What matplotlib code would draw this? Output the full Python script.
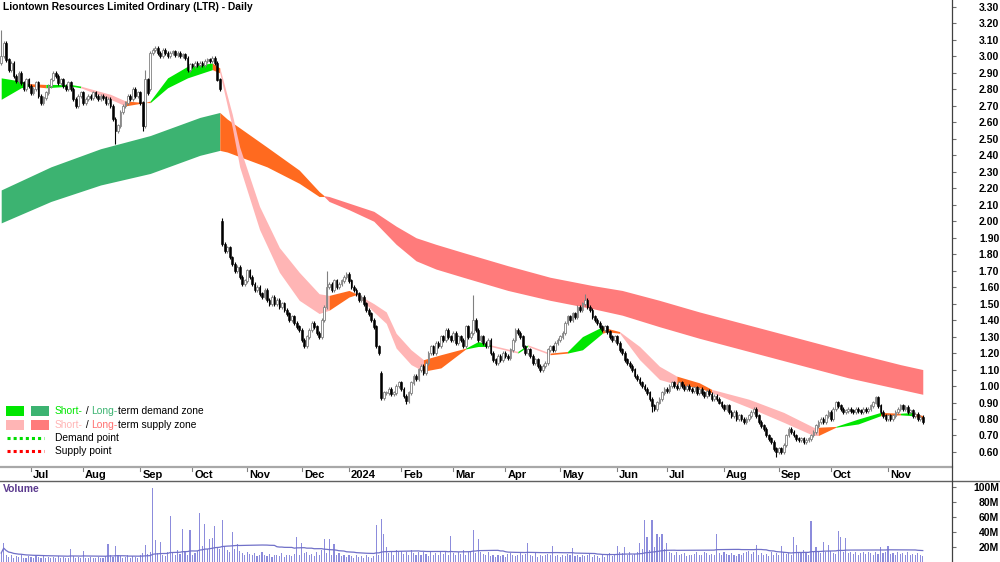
import numpy as np
import pandas as pd
import matplotlib
matplotlib.use("Agg")
import matplotlib.pyplot as plt
from matplotlib.lines import Line2D
from matplotlib.patches import Rectangle
from matplotlib.transforms import blended_transform_factory

plt.rcParams["font.family"] = ["Liberation Sans", "DejaVu Sans"]

# ── data ──────────────────────────────────────────────────────────────────────
HOLIDAYS = ["2023-12-25", "2023-12-26", "2024-01-01", "2024-01-26"]
dates = pd.bdate_range("2023-06-15", "2024-11-21")
dates = dates[~dates.isin(pd.to_datetime(HOLIDAYS))]

closes = [
    3.00, 3.08, 2.98, 2.92, 2.96, 2.88, 2.85, 2.90, 2.84, 2.80,
    2.86, 2.82, 2.78, 2.80, 2.84, 2.76, 2.72, 2.75, 2.78, 2.82,
    2.86, 2.90, 2.88, 2.84, 2.86, 2.82, 2.80, 2.84, 2.80, 2.74,
    2.70, 2.76, 2.78, 2.72, 2.74, 2.76, 2.75, 2.78, 2.76, 2.74,
    2.76, 2.75, 2.72, 2.74, 2.70, 2.62, 2.55, 2.58, 2.66, 2.70,
    2.72, 2.76, 2.74, 2.80, 2.76, 2.78, 2.72, 2.58, 2.86, 2.78,
    3.02, 3.04, 3.05, 3.02, 3.00, 3.04, 3.02, 3.00, 3.02, 3.03,
    3.01, 3.02, 3.00, 3.01, 2.99, 2.92, 2.95, 2.94, 2.96, 2.95,
    2.96, 2.95, 2.97, 2.98, 2.97, 2.99, 2.96, 2.86, 2.80, 1.86,
    1.82, 1.84, 1.78, 1.74, 1.70, 1.72, 1.66, 1.62, 1.64, 1.70,
    1.66, 1.62, 1.58, 1.60, 1.56, 1.54, 1.58, 1.52, 1.50, 1.54,
    1.50, 1.52, 1.48, 1.50, 1.46, 1.44, 1.40, 1.42, 1.38, 1.36,
    1.34, 1.28, 1.24, 1.30, 1.34, 1.38, 1.36, 1.32, 1.30, 1.40,
    1.48, 1.60, 1.62, 1.58, 1.64, 1.60, 1.62, 1.64, 1.66, 1.68,
    1.64, 1.60, 1.58, 1.56, 1.52, 1.54, 1.50, 1.46, 1.44, 1.40,
    1.36, 1.24, 1.20, 0.93, 0.96, 0.96, 0.98, 0.95, 0.96, 1.00,
    1.02, 0.98, 0.94, 0.91, 0.96, 1.02, 1.06, 1.04, 1.10, 1.12,
    1.08, 1.14, 1.20, 1.24, 1.20, 1.26, 1.24, 1.30, 1.28, 1.34,
    1.30, 1.28, 1.32, 1.26, 1.30, 1.28, 1.24, 1.36, 1.30, 1.32,
    1.40, 1.34, 1.28, 1.30, 1.26, 1.24, 1.28, 1.20, 1.16, 1.14,
    1.18, 1.16, 1.20, 1.18, 1.17, 1.22, 1.28, 1.34, 1.32, 1.30,
    1.24, 1.20, 1.22, 1.18, 1.14, 1.16, 1.12, 1.10, 1.12, 1.14,
    1.22, 1.24, 1.22, 1.26, 1.28, 1.30, 1.32, 1.38, 1.42, 1.40,
    1.44, 1.42, 1.48, 1.46, 1.50, 1.52, 1.48, 1.46, 1.42, 1.40,
    1.38, 1.36, 1.34, 1.36, 1.33, 1.30, 1.28, 1.30, 1.26, 1.22,
    1.20, 1.16, 1.14, 1.12, 1.10, 1.06, 1.04, 1.02, 1.00, 0.98,
    0.96, 0.92, 0.88, 0.86, 0.90, 0.92, 0.96, 0.98, 0.97, 1.00,
    1.02, 1.00, 0.99, 1.02, 1.00, 0.98, 1.00, 0.98, 0.97, 0.99,
    0.96, 0.98, 0.96, 0.94, 0.97, 0.95, 0.92, 0.94, 0.92, 0.90,
    0.88, 0.86, 0.88, 0.84, 0.82, 0.84, 0.80, 0.82, 0.80, 0.78,
    0.80, 0.82, 0.84, 0.86, 0.82, 0.78, 0.76, 0.74, 0.70, 0.68,
    0.66, 0.62, 0.60, 0.62, 0.60, 0.64, 0.70, 0.74, 0.72, 0.70,
    0.68, 0.67, 0.68, 0.66, 0.67, 0.68, 0.70, 0.72, 0.76, 0.78,
    0.80, 0.78, 0.82, 0.84, 0.80, 0.86, 0.90, 0.88, 0.86, 0.84,
    0.85, 0.86, 0.85, 0.84, 0.86, 0.85, 0.84, 0.86, 0.85, 0.86,
    0.88, 0.90, 0.93, 0.88, 0.84, 0.82, 0.80, 0.82, 0.80, 0.82,
    0.84, 0.86, 0.88, 0.86, 0.87, 0.84, 0.85, 0.82, 0.83, 0.80,
    0.81, 0.78,
]
# opens differ from the previous close only on gap days
open_gaps = {0: 2.96, 60: 2.80, 89: 2.00, 151: 1.36, 153: 1.08}
# visible wick extremes
wick_high = {0: 3.16, 58: 2.92, 89: 2.02, 131: 1.70, 190: 1.55, 235: 1.56}
wick_low = {46: 2.47, 57: 2.55, 163: 0.89, 312: 0.57, 262: 0.84}

volume_m = [
    12, 25, 9, 7, 10, 6, 8, 7, 9, 6, 5, 8, 7, 6, 9, 7, 6, 8, 5, 7,
    6, 7, 5, 8, 6, 7, 5, 6, 17, 8, 6, 7, 5, 15, 6, 5, 7, 6, 5, 7,
    6, 5, 8, 24, 9, 7, 22, 10, 8, 6, 7, 9, 6, 8, 7, 6, 9, 12, 23, 11,
    14, 99, 29, 12, 27, 10, 8, 14, 61, 12, 9, 16, 11, 44, 13, 10, 43, 9, 12, 15,
    65, 22, 51, 18, 31, 32, 48, 20, 18, 56, 22, 16, 14, 40, 18, 24, 15, 12, 10, 14,
    11, 9, 12, 8, 10, 13, 9, 8, 11, 7, 10, 9, 8, 12, 7, 9, 10, 8, 11, 33,
    10, 25, 12, 14, 9, 11, 8, 13, 10, 16, 31, 12, 31, 10, 24, 9, 12, 8, 10, 7,
    9, 8, 6, 10, 7, 8, 6, 9, 7, 5, 8, 49, 10, 58, 38, 20, 12, 14, 10, 16,
    13, 15, 11, 14, 9, 16, 12, 10, 14, 9, 13, 11, 8, 15, 10, 12, 9, 14, 11, 13,
    10, 35, 12, 9, 14, 11, 16, 10, 13, 15, 43, 12, 31, 14, 11, 9, 13, 8, 10, 7,
    9, 8, 10, 7, 11, 12, 9, 8, 10, 13, 9, 11, 25, 10, 8, 12, 7, 9, 8, 10,
    11, 9, 22, 8, 10, 7, 9, 8, 11, 10, 19, 8, 9, 7, 10, 8, 9, 11, 7, 9,
    8, 6, 10, 7, 9, 12, 8, 10, 22, 14, 12, 20, 10, 13, 9, 11, 14, 25, 18, 56,
    33, 16, 56, 20, 37, 33, 37, 18, 25, 14, 12, 10, 13, 9, 11, 12, 8, 10, 9, 11,
    13, 10, 9, 14, 12, 10, 11, 9, 38, 12, 10, 13, 11, 9, 12, 10, 8, 11, 9, 12,
    13, 15, 11, 14, 23, 10, 12, 9, 11, 8, 13, 10, 12, 9, 22, 14, 11, 12, 10, 33,
    23, 14, 12, 16, 13, 10, 55, 15, 20, 14, 12, 27, 13, 23, 15, 12, 11, 41, 33, 14,
    32, 12, 14, 11, 13, 10, 12, 14, 11, 13, 12, 10, 14, 11, 20, 12, 13, 21, 11, 12,
    10, 13, 11, 12, 9, 14, 10, 11, 9, 12, 10, 8,
]

# short-term zone edges (bar index, upper, lower, segment kind)
st_bar = [0, 8, 11, 18, 28, 32, 44, 50, 58, 60, 67, 75, 85, 88, 93, 96, 104, 112,
          120, 128, 132, 140, 143, 150, 155, 159, 165, 170, 177, 187, 192, 197,
          208, 212, 221, 228, 234, 242, 244, 249, 257, 265, 272, 281, 286, 301,
          315, 327, 329, 336, 345, 354, 362, 367, 371]
st_top = [2.87, 2.85, 2.835, 2.83, 2.83, 2.82, 2.77, 2.73, 2.72, 2.73, 2.87, 2.94,
          2.96, 2.93, 2.65, 2.45, 2.09, 1.84, 1.69, 1.56, 1.55, 1.58, 1.56, 1.50,
          1.45, 1.32, 1.22, 1.16, 1.19, 1.23, 1.27, 1.25, 1.21, 1.25, 1.20, 1.21,
          1.30, 1.36, 1.35, 1.33, 1.24, 1.12, 1.06, 1.02, 0.98, 0.92, 0.84, 0.75,
          0.75, 0.755, 0.80, 0.84, 0.835, 0.84, 0.82]
st_bot = [2.74, 2.81, 2.82, 2.81, 2.82, 2.81, 2.74, 2.70, 2.72, 2.72, 2.81, 2.87,
          2.92, 2.90, 2.57, 2.33, 1.95, 1.69, 1.52, 1.44, 1.46, 1.54, 1.555, 1.45,
          1.38, 1.23, 1.13, 1.09, 1.11, 1.225, 1.24, 1.24, 1.20, 1.24, 1.19, 1.20,
          1.22, 1.32, 1.33, 1.32, 1.16, 1.04, 1.01, 0.99, 0.96, 0.87, 0.78, 0.70,
          0.70, 0.75, 0.77, 0.82, 0.825, 0.82, 0.80]
st_kind = "GGOGGPPOOGGGOPPPPPPPOOPPPPPOOGGPGPOGGOOPPPOOPPPPOGGOGOO"

# long-term zone edges
lt_bar = [0, 20, 40, 60, 80, 88, 91, 107, 120, 128, 130, 132, 140, 150, 159, 167,
          175, 186, 204, 221, 238, 250, 265, 281, 301, 321, 341, 362, 371]
lt_top = [2.19, 2.33, 2.44, 2.52, 2.63, 2.66, 2.62, 2.45, 2.31, 2.18, 2.155, 2.15,
          2.11, 2.06, 1.97, 1.90, 1.86, 1.81, 1.73, 1.66, 1.61, 1.58, 1.52, 1.45,
          1.37, 1.29, 1.21, 1.13, 1.10]
lt_bot = [1.99, 2.12, 2.22, 2.29, 2.40, 2.43, 2.42, 2.33, 2.23, 2.15, 2.15, 2.12,
          2.07, 2.00, 1.86, 1.76, 1.71, 1.66, 1.58, 1.52, 1.47, 1.43, 1.36, 1.29,
          1.21, 1.13, 1.05, 0.98, 0.95]
lt_kind = "GGGGGOOOOORRRRRRRRRRRRRRRRRRR"

ST_COLORS = {"G": "#00E600", "O": "#FF6A1F", "P": "#FFB5B5"}
LT_COLORS = {"G": "#3CB371", "O": "#FF6A1F", "R": "#FF7B7B"}

W, H = 1000, 562
PX_PER_BAR, X0 = 2.484, 1.2     # bar -> pixel mapping of the source chart


def draw_zone(ax, bars, top, bot, kinds, colors):
    bars, top, bot = map(np.asarray, (bars, top, bot))
    k = 0
    while k < len(bars) - 1:
        j = k
        while j + 1 < len(bars) - 1 and kinds[j + 1] == kinds[k]:
            j += 1
        sl = slice(k, j + 2)
        ax.fill_between(bars[sl], top[sl], bot[sl], color=colors[kinds[k]],
                        linewidth=0, zorder=2)
        k = j + 1


def main():
    n = len(dates)
    x = np.arange(n)
    c = np.array(closes[:n])
    o = np.r_[c[0], c[:-1]]
    for i, v in open_gaps.items():
        o[i] = v
    pad = 0.012
    hi = np.maximum(o, c) + pad
    lo = np.minimum(o, c) - pad
    for i, v in wick_high.items():
        hi[i] = v
    for i, v in wick_low.items():
        lo[i] = v

    fig = plt.figure(figsize=(W / 100, H / 100), dpi=100)
    ax = fig.add_axes([0, 1 - 467 / H, 952 / W, 467 / H])
    axv = fig.add_axes([0, 0, 952 / W, 81 / H])

    xlim = (-X0 / PX_PER_BAR, (952 - X0) / PX_PER_BAR)

    # zones
    draw_zone(ax, lt_bar, lt_top, lt_bot, lt_kind, LT_COLORS)
    draw_zone(ax, st_bar, st_top, st_bot, st_kind, ST_COLORS)

    # candles
    up = c >= o
    ax.vlines(x[up], lo[up], hi[up], color="#808080", lw=0.8, zorder=3)
    ax.vlines(x[~up], lo[~up], hi[~up], color="black", lw=0.8, zorder=3)
    ax.bar(x[up], (c - o)[up] + 0.002, bottom=o[up], width=0.7, color="white",
           edgecolor="#808080", linewidth=0.6, zorder=4)
    ax.bar(x[~up], (o - c)[~up] + 0.002, bottom=c[~up], width=0.7, color="black",
           edgecolor="black", linewidth=0.4, zorder=4)

    ax.set_xlim(*xlim)
    ax.set_ylim(3.30 - 460 / 164.8, 3.30 + 7 / 164.8)
    ax.set_xticks([])
    ax.yaxis.tick_right()
    yt = np.round(np.arange(0.6, 3.301, 0.1), 2)
    ax.set_yticks(yt, [f"{v:.2f}" for v in yt])
    ax.tick_params(axis="y", direction="out", length=3, width=0.8, color="#707070",
                   pad=31, labelsize=7.5)
    for lab in ax.get_yticklabels():
        lab.set_ha("right")
        lab.set_fontweight("bold")
    for s in ("top", "left", "right"):
        ax.spines[s].set_visible(False)
    ax.spines["bottom"].set_color("#A8A8A8")
    ax.spines["bottom"].set_linewidth(1.6)

    # month labels
    tr = blended_transform_factory(ax.transData, ax.transAxes)
    for i in range(1, n):
        if dates[i].month != dates[i - 1].month:
            lab = "2024" if (dates[i].month == 1) else dates[i].strftime("%b")
            ax.plot([i, i], [0, -4 / 467], color="#808080", lw=0.8,
                    transform=tr, clip_on=False)
            ax.text(i + 2 / PX_PER_BAR, -8 / 467, lab, transform=tr, ha="left",
                    va="center", fontsize=8, fontweight="bold")

    # title
    fig.text(3 / W, 1 - 7 / H, "Liontown Resources Limited Ordinary (LTR) - Daily",
             fontsize=7.4, fontweight="bold", va="center", ha="left")

    # legend
    def fx(px):
        return px / W

    def fy(py):
        return 1 - py / H

    for (x0, y0, col) in [(6, 406, "#00E600"), (31, 406, "#3CB371"),
                          (6, 420, "#FFB5B5"), (31, 420, "#FF7B7B")]:
        fig.patches.append(Rectangle((fx(x0), fy(y0 + 10)), 18 / W, 10 / H,
                                     transform=fig.transFigure, color=col, lw=0))
    fig.add_artist(Line2D([fx(7), fx(44)], [fy(438), fy(438)], color="#00DD00",
                          lw=2.2, linestyle=(0, (1, 1))))
    fig.add_artist(Line2D([fx(7), fx(44)], [fy(451), fy(451)], color="#FF0000",
                          lw=2.2, linestyle=(0, (1, 1))))

    rows = [
        (411, [("Short-", "#00E600"), (" / ", "black"), ("Long-", "#3CB371"),
               ("term demand zone", "black")]),
        (425, [("Short-", "#FFB5B5"), (" / ", "black"), ("Long-", "#FF7070"),
               ("term supply zone", "black")]),
        (438, [("Demand point", "black")]),
        (451, [("Supply point", "black")]),
    ]
    for py, parts in rows:
        prev = fig.text(fx(55), fy(py), parts[0][0], color=parts[0][1],
                        fontsize=7.4, va="center", ha="left")
        for s, col in parts[1:]:
            prev = ax.annotate(s, xy=(1, 0), xycoords=prev, va="bottom",
                               ha="left", color=col, fontsize=7.4)

    # volume panel
    vol = np.array(volume_m[:n], dtype=float)
    vol_ma = pd.Series(vol).rolling(50, min_periods=1).mean().values
    axv.bar(x, vol, width=0.45, color="#8C8CDC", linewidth=0, zorder=2)
    axv.plot(x, vol_ma, color="#7070C8", lw=0.9, zorder=3)
    axv.set_xlim(*xlim)
    axv.set_ylim(0, 81 / 0.75)
    axv.set_xticks([])
    axv.yaxis.tick_right()
    vt = [20, 40, 60, 80, 100]
    axv.set_yticks(vt, [f"{v}M" for v in vt])
    axv.tick_params(axis="y", direction="out", length=3, width=0.8, color="#707070",
                    pad=31, labelsize=7.5)
    for lab in axv.get_yticklabels():
        lab.set_ha("right")
        lab.set_fontweight("bold")
    for s in ("top", "left", "right", "bottom"):
        axv.spines[s].set_visible(False)
    axv.text(3 / 952, 1 - 8 / 81, "Volume", transform=axv.transAxes, color="#5B3A8E",
             fontsize=7.5, fontweight="bold", va="center", ha="left")

    # frame lines
    fig.add_artist(Line2D([0, 1], [fy(481), fy(481)], color="#606060", lw=1.0))
    fig.add_artist(Line2D([952 / W, 952 / W], [0, 1], color="#404040", lw=0.9))

    fig.savefig("out.png", dpi=100, facecolor="white")


if __name__ == "__main__":
    main()
